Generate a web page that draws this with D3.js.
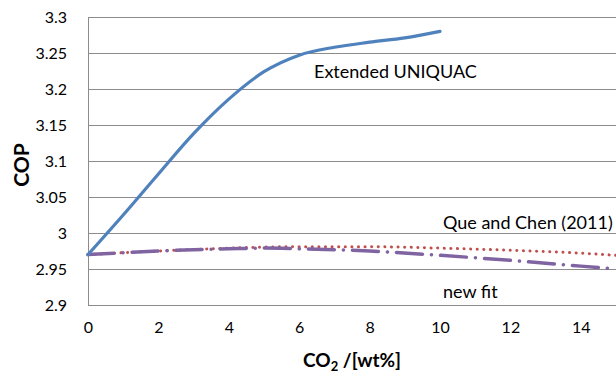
<!DOCTYPE html>
<html>
<head>
<meta charset="utf-8">
<script src="https://cdn.jsdelivr.net/npm/d3@7"></script>
<style>
  body { margin: 0; background: #fff; }
  svg { font-family: Lato, "Open Sans", sans-serif; }
</style>
</head>
<body>
<div id="chart"></div>
<script>
// data
var uniquacX = [0, 1, 2, 3, 4, 5, 6, 7, 8, 9, 10];
var uniquacY = [2.97, 3.025, 3.082, 3.138, 3.186, 3.224, 3.247, 3.258, 3.265, 3.271, 3.28];
var queX = [0, 2, 4, 6, 8, 10, 12, 14, 15];
var queY = [2.97, 2.975, 2.979, 2.981, 2.981, 2.979, 2.976, 2.972, 2.969];
var fitX = [0, 2, 4, 5, 6, 8, 10, 12, 14, 15];
var fitY = [2.97, 2.975, 2.978, 2.979, 2.978, 2.975, 2.969, 2.962, 2.954, 2.95];
var xTicks = [0, 2, 4, 6, 8, 10, 12, 14];
var yTicks = [2.9, 2.95, 3, 3.05, 3.1, 3.15, 3.2, 3.25, 3.3];

var width = 616, height = 374;
var margin = { top: 17, left: 88, bottom: 69 };

var svg = d3.select("#chart")
  .append("svg")
  .attr("width", width)
  .attr("height", height);

var x = d3.scaleLinear()
  .domain([0, 16])
  .range([margin.left, margin.left + 16 * 35.2]);

var y = d3.scaleLinear()
  .domain([2.9, 3.3])
  .range([height - margin.bottom, margin.top]);

// gridlines
svg.append("g")
  .selectAll("line")
  .data(yTicks)
  .join("line")
  .attr("x1", x(0))
  .attr("x2", width)
  .attr("y1", d => Math.round(y(d)) + 0.5)
  .attr("y2", d => Math.round(y(d)) + 0.5)
  .attr("stroke", "#8c8c8c")
  .attr("stroke-width", 1);

// left axis line
svg.append("line")
  .attr("x1", Math.round(x(0)) + 0.5)
  .attr("x2", Math.round(x(0)) + 0.5)
  .attr("y1", y(3.3))
  .attr("y2", y(2.9))
  .attr("stroke", "#8c8c8c");

// axes
var yAxis = svg.append("g")
  .attr("transform", "translate(" + (x(0) - 18) + ",0)")
  .call(d3.axisLeft(y).tickValues(yTicks).tickSize(0).tickFormat(d3.format("")));
yAxis.select(".domain").remove();
yAxis.selectAll("text")
  .attr("font-size", 16)
  .attr("font-family", "Lato, sans-serif")
  .attr("fill", "#000");

var xAxis = svg.append("g")
  .attr("transform", "translate(0," + (y(2.9) + 14) + ")")
  .call(d3.axisBottom(x).tickValues(xTicks).tickSize(0).tickFormat(d3.format("")));
xAxis.select(".domain").remove();
xAxis.selectAll("text")
  .attr("font-size", 16)
  .attr("font-family", "Lato, sans-serif")
  .attr("fill", "#000");

// series
var line = d3.line().curve(d3.curveMonotoneX);

svg.append("path")
  .attr("d", line(queX.map((d, i) => [x(d), y(queY[i])])))
  .attr("fill", "none")
  .attr("stroke", "#C0504D")
  .attr("stroke-width", 3)
  .attr("stroke-linecap", "round")
  .attr("stroke-dasharray", "0.1 6.5");

svg.append("path")
  .attr("d", line(fitX.map((d, i) => [x(d), y(fitY[i])])))
  .attr("fill", "none")
  .attr("stroke", "#8064A2")
  .attr("stroke-width", 3.5)
  .attr("stroke-linecap", "round")
  .attr("stroke-dasharray", "26 9 0.1 9");

svg.append("path")
  .attr("d", line(uniquacX.map((d, i) => [x(d), y(uniquacY[i])])))
  .attr("fill", "none")
  .attr("stroke", "#4F81BD")
  .attr("stroke-width", 3.2)
  .attr("stroke-linecap", "round");

// annotations
var notes = [
  { t: "Extended UNIQUAC", x: 314, y: 78 },
  { t: "Que and Chen (2011)", x: 443, y: 229 },
  { t: "new fit", x: 443, y: 298 }
];
svg.append("g")
  .selectAll("text")
  .data(notes)
  .join("text")
  .attr("x", d => d.x)
  .attr("y", d => d.y)
  .attr("font-size", 18)
  .attr("fill", "#000")
  .text(d => d.t);

// axis titles
svg.append("text")
  .attr("transform", "translate(29," + 165 + ") rotate(-90)")
  .attr("text-anchor", "middle")
  .attr("font-size", 21)
  .attr("font-weight", "bold")
  .text("COP");

var xt = svg.append("text")
  .attr("x", 352)
  .attr("y", 367)
  .attr("text-anchor", "middle")
  .attr("font-size", 19)
  .attr("font-weight", "bold");
xt.append("tspan").text("CO");
xt.append("tspan").attr("font-size", 13).attr("dy", 4).text("2");
xt.append("tspan").attr("dy", -4).text(" /[wt%]");
</script>
</body>
</html>
